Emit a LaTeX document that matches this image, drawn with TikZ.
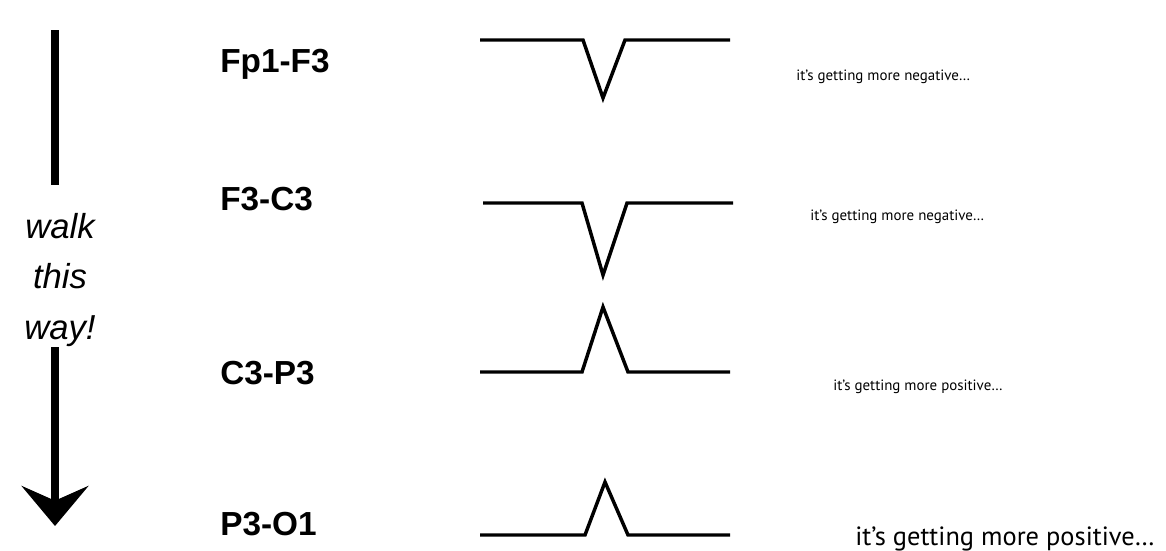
\documentclass[tikz,border=0pt]{standalone}
\usepackage{fontspec}
\setmainfont{Liberation Sans}
\newfontfamily\notefont{PT Sans}
\usetikzlibrary{arrows.meta, positioning}

\begin{document}
\begin{tikzpicture}[
  x=0.75pt, y=-0.75pt,
  chan/.style={anchor=base west, inner sep=0pt, font=\fontsize{25}{30}\selectfont\bfseries},
  note/.style={anchor=base west, inner sep=0pt, font=\notefont\fontsize{11.2}{13}\selectfont},
  wave/.style={line width=2.6pt, line join=miter},
  walkline/.style={line width=6pt}
]
  \useasboundingbox (0,0) rectangle (1166,550);

  % walking direction
  \node[align=center, inner sep=0pt, font=\fontsize{26}{38}\selectfont\itshape] (walk) at (60,280) {walk\\this\\way!};
  \coordinate (top) at (55,30);
  \coordinate (tip) at (55,526);
  \draw[walkline] (top) -- ([yshift=21pt]top |- walk.north);
  \draw[walkline, -{Stealth[length=30pt, width=50pt, inset=11pt]}] (top |- walk.south) -- (tip);

  % channels
  \node[chan] (fpf) at (220,72) {Fp1-F3};
  \node[chan] (fc) at (220,210) {F3-C3};
  \node[chan] (cp) at (220,384) {C3-P3};
  \node[chan] (po) at (220,535) {P3-O1};

  % deflections
  \draw[wave] (480,40) -- (583,40) -- (603,98) -- (625,40) -- (730,40);
  \draw[wave] (483,203) -- (582,203) -- (603,275) -- (627,203) -- (733,203);
  \draw[wave] (480,372) -- (582,372) -- (603,307) -- (628,372) -- (730,372);
  \draw[wave] (480,535) -- (585,535) -- (605,482) -- (628,535) -- (730,535);

  % what the eye sees
  \node[note] (n1) at (796,80) {it’s getting more negative…};
  \node[note] (n2) at (810,220) {it’s getting more negative…};
  \node[note] (n3) at (833,390) {it’s getting more positive…};
  \node[note, font=\notefont\fontsize{19.8}{23}\selectfont] (n4) at (855,545) {it’s getting more positive…};
\end{tikzpicture}
\end{document}
